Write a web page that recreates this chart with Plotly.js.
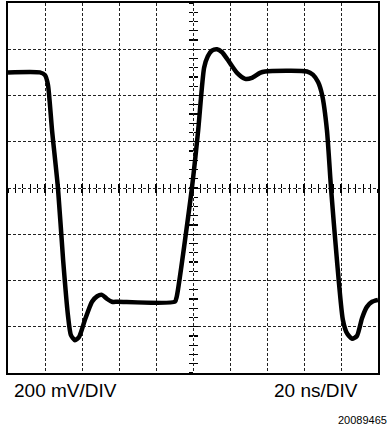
<!DOCTYPE html>
<html>
<head>
<meta charset="utf-8">
<script src="https://cdn.plot.ly/plotly-3.0.1.min.js"></script>
<style>html,body{margin:0;padding:0;background:#fff;}#chart{width:389px;height:430px;}</style>
</head>
<body>
<div id="chart"></div>
<script>
// Time in divisions (20 ns/DIV), voltage in divisions (200 mV/DIV)
const timeDiv = [0, 0.86, 1.0, 1.08, 1.19, 1.35, 1.49, 1.62, 1.70, 1.81, 1.92, 2.08, 2.27, 2.41, 2.54, 2.68, 2.81, 2.97,
  4.51, 4.56, 4.97, 5.14, 5.30, 5.40, 5.51, 5.65, 5.78, 6.0, 6.19, 6.41, 6.59, 6.81, 6.95,
  8.08, 8.24, 8.38, 8.49, 8.62, 8.73, 8.89, 9.05, 9.16, 9.30, 9.43, 9.57, 9.70, 9.84, 10];
const voltDiv = [2.5, 2.5, 2.44, 2.23, 1.25, 0, -1.56, -2.75, -3.18, -3.29, -3.22, -2.85, -2.46, -2.34, -2.31, -2.40, -2.46, -2.46,
  -2.46, -2.35, 0, 1.25, 2.6, 2.85, 2.97, 3.0, 2.94, 2.70, 2.49, 2.36, 2.38, 2.49, 2.52,
  2.52, 2.45, 2.29, 2.01, 1.25, 0, -1.56, -2.85, -3.14, -3.26, -3.2, -2.81, -2.57, -2.46, -2.42];
const voltLabel = "200 mV/DIV";
const timeLabel = "20 ns/DIV";
const figId = "20089465";

const gridColor = "#222";
const trace = {
  x: timeDiv, y: voltDiv, mode: "lines", type: "scatter",
  line: {color: "#000", width: 4.5, shape: "spline", smoothing: 0.6},
  hoverinfo: "skip", showlegend: false
};
const tickAxis = (ticks, extra) => Object.assign({
  overlaying: extra.ov, anchor: "free", position: 0.5, range: extra.range,
  dtick: 0.2, tick0: 0, ticks: ticks, ticklen: 4, tickwidth: 1.2, tickcolor: "#000",
  showticklabels: false, showgrid: false, zeroline: false, showline: false, fixedrange: true
}, extra.more || {});

const layout = {
  width: 389, height: 430,
  margin: {l: 8, r: 11, t: 3, b: 57},
  paper_bgcolor: "#fff", plot_bgcolor: "#fff",
  font: {family: "Liberation Sans, Arial, sans-serif", color: "#000"},
  xaxis: {range: [0, 10], dtick: 1, tick0: 0, showgrid: true, gridcolor: gridColor, griddash: "3px,2px", gridwidth: 1,
    zeroline: false, showticklabels: false, ticks: "", showline: true, mirror: true, linecolor: "#000", linewidth: 2},
  yaxis: {range: [-4, 4], dtick: 1, tick0: 0, showgrid: true, gridcolor: gridColor, griddash: "3px,2px", gridwidth: 1,
    zeroline: false, showticklabels: false, ticks: "", showline: true, mirror: true, linecolor: "#000", linewidth: 2},
  xaxis2: tickAxis("outside", {ov: "x", range: [0, 10]}),
  xaxis3: tickAxis("inside", {ov: "x", range: [0, 10]}),
  yaxis2: tickAxis("outside", {ov: "y", range: [-4, 4]}),
  yaxis3: tickAxis("inside", {ov: "y", range: [-4, 4]}),
  annotations: [
    {text: voltLabel, xref: "paper", yref: "paper", x: 0.012, y: -0.046, xanchor: "left", yanchor: "middle",
      showarrow: false, font: {size: 19}},
    {text: timeLabel, xref: "paper", yref: "paper", x: 0.951, y: -0.046, xanchor: "right", yanchor: "middle",
      showarrow: false, font: {size: 19}},
    {text: figId, xref: "paper", yref: "paper", x: 1.03, y: -0.127, xanchor: "right", yanchor: "middle",
      showarrow: false, font: {size: 11}}
  ]
};
const dummyX = {x: [0], y: [0], xaxis: "x2", yaxis: "y2", mode: "markers", marker: {opacity: 0}, hoverinfo: "skip", showlegend: false};
const dummyX3 = {x: [0], y: [0], xaxis: "x3", yaxis: "y3", mode: "markers", marker: {opacity: 0}, hoverinfo: "skip", showlegend: false};
Plotly.newPlot("chart", [trace, dummyX, dummyX3], layout, {staticPlot: true});
</script>
</body>
</html>
